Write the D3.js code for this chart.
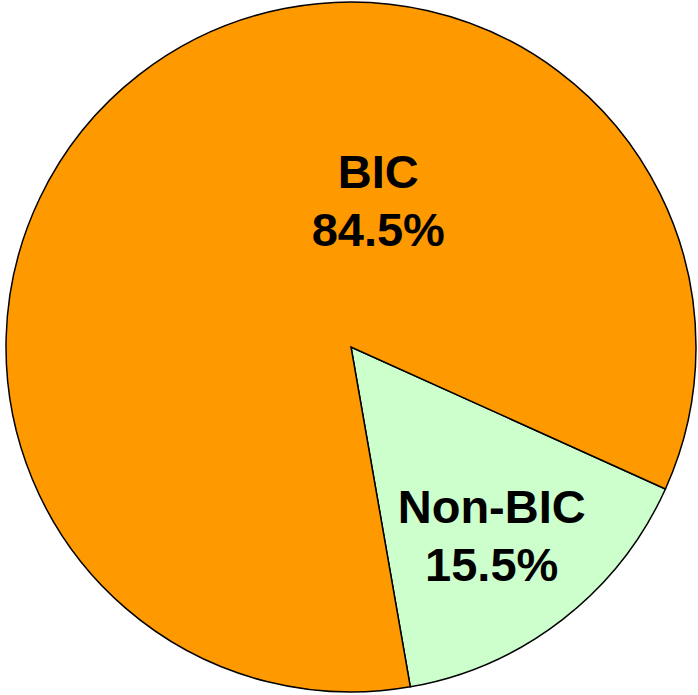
<!DOCTYPE html>
<html>
<head>
<meta charset="utf-8">
<script src="https://cdn.jsdelivr.net/npm/d3@7"></script>
<style>
  body { margin: 0; background: #fff; }
  svg { display: block; }
</style>
</head>
<body>
<div id="chart"></div>
<script>
// data
var categories = ["Non-BIC", "BIC"];
var values = [15.5, 84.5];
var colors = ["#CCFFCC", "#FF9900"];

var w = 698;
var h = 695;
var cx = 351, cy = 347, r = 345;

var svg = d3.select("#chart")
    .append("svg")
    .attr("width", w)
    .attr("height", h);

var g = svg.append("g")
    .attr("transform", "translate(" + cx + "," + cy + ")");

var pie = d3.pie()
    .sort(null)
    .value(function(d) { return d; })
    .startAngle(114.3 * Math.PI / 180)
    .endAngle(114.3 * Math.PI / 180 + 2 * Math.PI);

var arc = d3.arc().innerRadius(0).outerRadius(r);
var labelArc = d3.arc().innerRadius(0).outerRadius(r);

var arcs = pie(values);

g.selectAll("path")
    .data(arcs)
    .enter()
    .append("path")
    .attr("d", arc)
    .attr("fill", function(d, i) { return colors[i]; })
    .attr("stroke", "#000")
    .attr("stroke-width", 1.5);

// labels: centroid plus a nudge
var offsets = [[35, 40], [133, -23]];

arcs.forEach(function(d, i) {
    var c = labelArc.centroid(d);
    var x = c[0] + offsets[i][0], y = c[1] + offsets[i][1];
    var t = g.append("text")
        .attr("text-anchor", "middle")
        .attr("font-family", "Liberation Sans, Arial, sans-serif")
        .attr("font-weight", "bold")
        .attr("font-size", "47px")
        .attr("fill", "#000");
    t.append("tspan").attr("x", x).attr("y", y).text(categories[i]);
    t.append("tspan").attr("x", x).attr("y", y + 58).text(values[i].toFixed(1) + "%");
});
</script>
</body>
</html>
